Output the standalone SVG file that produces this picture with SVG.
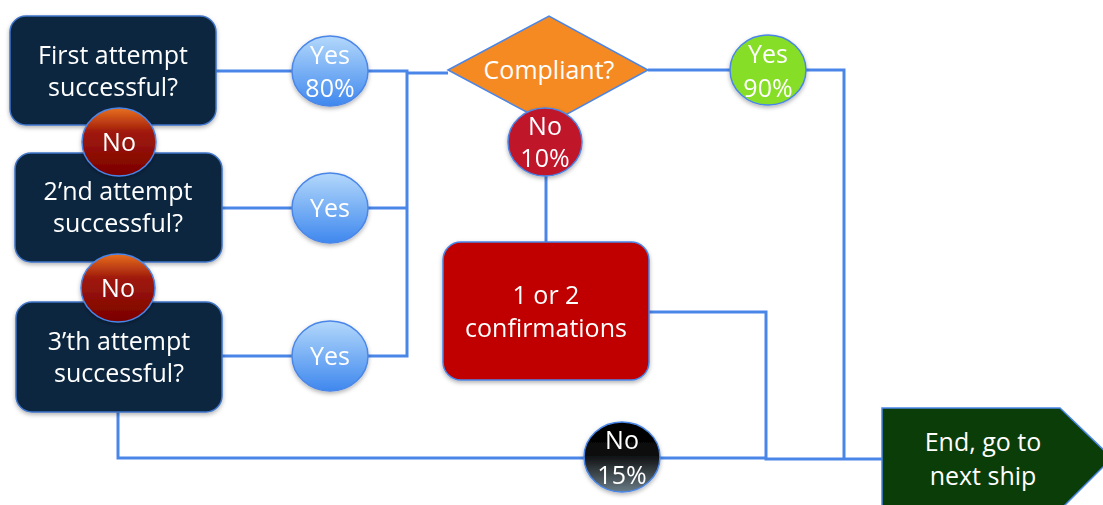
<svg xmlns="http://www.w3.org/2000/svg" width="1103" height="505" viewBox="0 0 1103 505">
<defs>
<linearGradient id="gYes" x1="0" y1="0" x2="0" y2="1"><stop offset="0" stop-color="#b3d8fb"/><stop offset="1" stop-color="#3f88ee"/></linearGradient>
<linearGradient id="gNo" x1="0" y1="0" x2="0" y2="1"><stop offset="0" stop-color="#e8701e"/><stop offset="0.35" stop-color="#a01a0c"/><stop offset="1" stop-color="#7a0000"/></linearGradient>
<linearGradient id="gBlack" x1="0" y1="0" x2="0" y2="1"><stop offset="0" stop-color="#000"/><stop offset="0.45" stop-color="#0a0a0a"/><stop offset="1" stop-color="#6a7c86"/></linearGradient>
<filter id="sh" x="-20%" y="-20%" width="140%" height="150%"><feDropShadow dx="0" dy="2" stdDeviation="2" flood-color="#000" flood-opacity="0.3"/></filter>
</defs>
<style>
.t{font-family:"Open Sans","Liberation Sans",sans-serif;font-size:25px;fill:#fff;text-anchor:middle}
.box{fill:#0b2740;stroke:#3f74c8;stroke-width:1.5}
.ln{fill:none;stroke:#4a86e8;stroke-width:3}
.yes{fill:url(#gYes);stroke:#4a86e8;stroke-width:1.5}
.no{fill:url(#gNo);stroke:#4a86e8;stroke-width:1.5}
</style>
<g id="connectors">
<path class="ln" d="M216 71 H292 M368 71 H407 V356 H368 M292 356 H222 M222 208 H292 M368 208 H407"/>
<path class="ln" d="M407 73 H448" stroke="#3a5570"/>
<path class="ln" d="M648 70 H730 M806 70 H844 V459"/>
<path class="ln" d="M546 176 V242"/>
<path class="ln" d="M649 312 H766 V459 H882"/>
<path class="ln" d="M118 412 V458 H584 M660 458 H766"/>
</g>
<g id="box1" filter="url(#sh)"><rect class="box" x="10" y="16" width="206" height="109" rx="16"/><text class="t" x="113" y="64">First attempt</text><text class="t" x="113" y="96">successful?</text></g>
<g id="box2" filter="url(#sh)"><rect class="box" x="15" y="153" width="207" height="109" rx="16"/><text class="t" x="118" y="200">2’nd attempt</text><text class="t" x="118" y="232">successful?</text></g>
<g id="box3" filter="url(#sh)"><rect class="box" x="16" y="302" width="206" height="110" rx="16"/><text class="t" x="119" y="350">3’th attempt</text><text class="t" x="119" y="382">successful?</text></g>
<g id="no1" filter="url(#sh)"><ellipse class="no" cx="119" cy="142" rx="37" ry="34"/><text class="t" x="119" y="151">No</text></g>
<g id="no2" filter="url(#sh)"><ellipse class="no" cx="118" cy="288" rx="37" ry="34"/><text class="t" x="118" y="297">No</text></g>
<g id="yes1" filter="url(#sh)"><ellipse class="yes" cx="330" cy="71" rx="38" ry="35"/><text class="t" x="330" y="64">Yes</text><text class="t" x="330" y="97">80%</text></g>
<g id="yes2" filter="url(#sh)"><ellipse class="yes" cx="330" cy="208" rx="38" ry="35"/><text class="t" x="330" y="217">Yes</text></g>
<g id="yes3" filter="url(#sh)"><ellipse class="yes" cx="330" cy="356" rx="38" ry="35"/><text class="t" x="330" y="365">Yes</text></g>
<g id="compliant"><polygon points="448,70 549,16 648,70 549,124" fill="#f68a22" stroke="#4a86e8" stroke-width="1.5"/><text class="t" x="549" y="79">Compliant?</text></g>
<g id="no10" filter="url(#sh)"><ellipse cx="545" cy="142" rx="37" ry="34" fill="#c0142c" stroke="#4a86e8" stroke-width="1.5"/><text class="t" x="545" y="135">No</text><text class="t" x="545" y="167">10%</text></g>
<g id="yes90" filter="url(#sh)"><ellipse cx="768" cy="70" rx="38" ry="35" fill="#86de26" stroke="#4a86e8" stroke-width="1.5"/><text class="t" x="768" y="63">Yes</text><text class="t" x="768" y="97">90%</text></g>
<g id="confirm" filter="url(#sh)"><rect x="443" y="242" width="206" height="138" rx="18" fill="#c00000" stroke="#4a86e8" stroke-width="1.5"/><text class="t" x="546" y="304">1 or 2</text><text class="t" x="546" y="337">confirmations</text></g>
<g id="no15" filter="url(#sh)"><ellipse cx="622" cy="457" rx="38" ry="35" fill="url(#gBlack)" stroke="#4a86e8" stroke-width="1.5"/><text class="t" x="622" y="449">No</text><text class="t" x="622" y="484">15%</text></g>
<g id="end"><polygon points="882,408 1060,408 1112,458 1060,510 882,510" fill="#0b3d08" stroke="#4a86e8" stroke-width="1.5"/><text class="t" x="983" y="451">End, go to</text><text class="t" x="983" y="485">next ship</text></g>
</svg>
